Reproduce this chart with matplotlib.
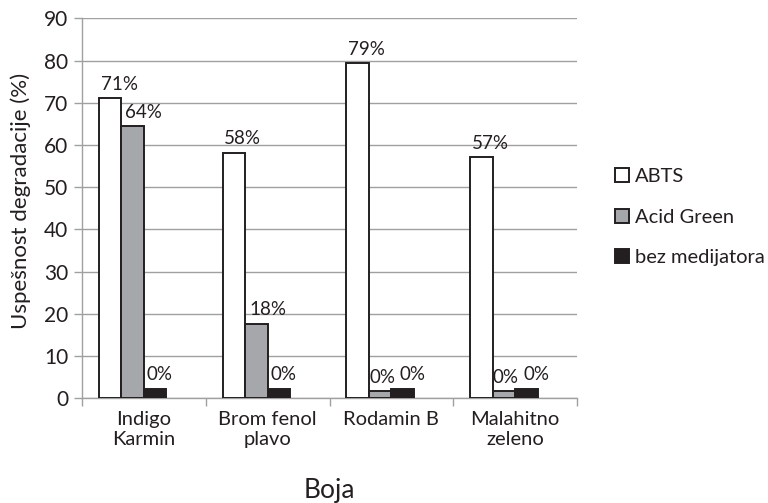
import matplotlib.pyplot as plt
import numpy as np

plt.rcParams['font.family'] = ['Lato', 'DejaVu Sans']

# data (heights as drawn; zero bars drawn as small stubs)
boje = ['Indigo\nKarmin', 'Brom fenol\nplavo', 'Rodamin B', 'Malahitno\nzeleno']
abts = [71.1, 58.2, 79.4, 57.1]
acid_green = [64.4, 17.7, 1.7, 1.7]
bez_med = [2.2, 2.2, 2.2, 2.2]
lab_abts = ['71%', '58%', '79%', '57%']
lab_acid = ['64%', '18%', '0%', '0%']
lab_bez = ['0%', '0%', '0%', '0%']

fig = plt.figure(figsize=(7.68, 5.03), dpi=100)
ax = fig.add_axes([0.1068, 0.2081, 0.6445, 0.7555])

x = np.arange(len(boje))
w = 0.182
edge = '#231f20'
series = [
    (abts, lab_abts, 'white', 'ABTS', -1.5),
    (acid_green, lab_acid, '#a6a7aa', 'Acid Green', -0.5),
    (bez_med, lab_bez, '#231f20', 'bez medijatora', 0.5),
]
for vals, labs, col, name, k in series:
    bars = ax.bar(x + k * w, vals, w, color=col, edgecolor=edge, linewidth=1.4,
                  label=name, zorder=3)
    for i, (b, lab) in enumerate(zip(bars, labs)):
        dx = 6.5
        if name == 'Acid Green':
            dx = 8 if lab != '0%' else 1.5
        elif name == 'bez medijatora':
            dx = 3 if lab_acid[i] != '0%' else 7
        ax.annotate(lab, (b.get_x() + b.get_width() / 2, b.get_height()),
                    xytext=(dx, 4), textcoords='offset points',
                    ha='center', va='bottom', fontsize=13.5, color='#231f20')

ax.set_xlim(-0.5, len(boje) - 0.5)
ax.set_ylim(0, 90)
ax.set_yticks(np.arange(0, 91, 10))
ax.set_xticks(np.arange(-0.5, len(boje), 1))
ax.set_xticklabels([])
ax.set_xticks(x, minor=True)
ax.set_xticklabels(boje, minor=True, fontsize=14.5, color='#231f20')
ax.tick_params(axis='x', which='minor', length=0, pad=9)
ax.tick_params(axis='x', which='major', length=6, color='#a0a0a0', width=1)
ax.tick_params(axis='y', length=6, color='#a0a0a0', width=1, labelsize=15,
               labelcolor='#231f20', pad=4)
ax.yaxis.grid(True, color='#a0a0a0', linewidth=1, zorder=0)
ax.set_axisbelow(True)
for s in ['top', 'right']:
    ax.spines[s].set_visible(False)
for s in ['left', 'bottom']:
    ax.spines[s].set_color('#a0a0a0')
    ax.spines[s].set_linewidth(1)

ax.set_ylabel('Uspešnost degradacije (%)', fontsize=16, color='#231f20')
ax.yaxis.set_label_coords(-0.103, 0.52)
ax.set_xlabel('Boja', fontsize=19, color='#231f20', labelpad=22)

ax.legend(loc='center left', bbox_to_anchor=(1.04, 0.477), frameon=False,
          fontsize=14.5, handlelength=0.7, handleheight=0.7, handletextpad=0.3,
          labelspacing=1.15, labelcolor='#231f20')

fig.savefig('out.png', dpi=100)
